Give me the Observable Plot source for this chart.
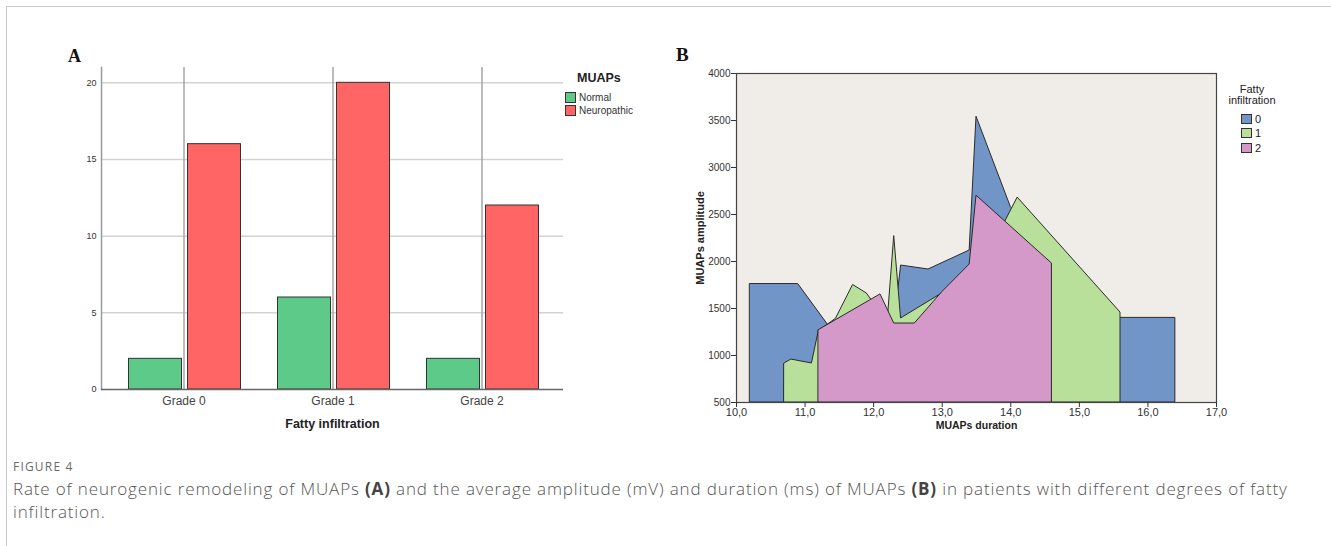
<!DOCTYPE html>
<html>
<head>
<meta charset="utf-8">
<script src="https://cdn.jsdelivr.net/npm/d3@7"></script>
<script src="https://cdn.jsdelivr.net/npm/@observablehq/plot@0.6"></script>
<style>
  html, body { margin: 0; padding: 0; background: #fff; }
  body { width: 1331px; height: 546px; position: relative; overflow: hidden; font-family: "Liberation Sans", Arial, sans-serif; }
  .box { position: absolute; left: 6px; top: 6px; width: 1330px; height: 545px; border-top: 1px solid #c9c9c9; border-left: 1px solid #c9c9c9; box-sizing: border-box; }
  #panelA, #panelB { position: absolute; top: 0; }
  #panelA { left: 0; }
  #panelB { left: 660px; }
  .plabel { position: absolute; font-family: "Liberation Serif", "Times New Roman", serif; font-weight: bold; color: #111; line-height: 1; }
  .legA { position: absolute; left: 565px; top: 71px; color: #333; }
  .legA .title { font-weight: bold; font-size: 12.5px; margin-left: 12px; margin-bottom: 6px; color: #222; }
  .legA .row { display: flex; align-items: center; font-size: 10px; height: 13px; }
  .legA .sw { width: 9px; height: 9px; border: 1px solid #333; margin-right: 3px; box-sizing: content-box; }
  .legB { position: absolute; left: 1222px; top: 84px; width: 60px; color: #222; font-size: 11px; }
  .legB .title { text-align: center; line-height: 11px; margin-bottom: 6px; }
  .legB .row { display: flex; align-items: center; height: 14.3px; margin-left: 19px; }
  .legB .sw { width: 9px; height: 8px; border: 1px solid #333; margin-right: 3px; box-sizing: content-box; }
  .fig { position: absolute; left: 13px; top: 458px; font-family: "Open Sans", sans-serif; font-size: 12px; letter-spacing: 1.2px; color: #6a6a6a; }
  .cap { position: absolute; left: 13px; top: 477px; font-family: "Open Sans", sans-serif; font-size: 17px; letter-spacing: 0.85px; line-height: 23px; color: #555; font-weight: 300; }
  .cap .line { white-space: nowrap; height: 23px; }
  .cap b { font-weight: 700; color: #444; }
</style>
</head>
<body>
<div class="box"></div>
<div id="panelA"></div>
<div id="panelB"></div>
<div class="plabel" style="left:68px; top:47px; font-size:18px;">A</div>
<div class="plabel" style="left:676px; top:45px; font-size:19px;">B</div>
<div class="legA" id="legA"></div>
<div class="legB" id="legB"></div>
<div class="fig">FIGURE 4</div>
<div class="cap">
  <div class="line"><span>Rate of neurogenic remodeling of MUAPs </span><b>(A)</b><span> and the average amplitude (mV) and duration (ms) of MUAPs </span><b>(B)</b><span> in patients with different degrees of fatty</span></div>
  <div class="line"><span>infiltration.</span></div>
</div>
<script>
// ---------- Panel A data ----------
const grades = ["Grade 0", "Grade 1", "Grade 2"];
const muapTypes = ["Normal", "Neuropathic"];
const normalCounts = [2, 6, 2];
const neuropathicCounts = [16, 20, 12];
const yTicksA = [0, 5, 10, 15, 20];
const colorsA = ["#5dca8a", "#ff6565"];

// ---------- Panel B data ----------
const fattyGroups = ["0", "1", "2"];
const grade0Duration  = [10.2, 10.9, 11.35, 11.8, 12.3, 12.4, 12.8, 13.4, 13.5, 14.0, 15.6, 16.4];
const grade0Amplitude = [1760, 1760, 1310, 1220, 1300, 1957, 1915, 2117, 3540, 2580, 1400, 1400];
const grade1Duration  = [10.7, 10.8, 11.1, 11.2, 11.45, 11.7, 11.9, 12.0, 12.2, 12.3, 12.4, 13.0, 13.5, 14.1, 15.6];
const grade1Amplitude = [915, 957, 915, 1260, 1390, 1750, 1660, 1560, 1320, 2270, 1394, 1660, 1830, 2680, 1457];
const grade2Duration  = [11.2, 12.1, 12.3, 12.6, 13.0, 13.4, 13.5, 14.6];
const grade2Amplitude = [1270, 1650, 1340, 1340, 1673, 1968, 2700, 1979];
const yTicksB = [500, 1000, 1500, 2000, 2500, 3000, 3500, 4000];
const xTicksB = [10, 11, 12, 13, 14, 15, 16, 17];
const colorsB = ["#7195c7", "#b8e09b", "#d498c9"];

// ---------- Panel A ----------
const normalRows = grades.map((g, i) => ({grade: g, type: muapTypes[0], count: normalCounts[i]}));
const neuroRows = grades.map((g, i) => ({grade: g, type: muapTypes[1], count: neuropathicCounts[i]}));

const plotA = Plot.plot({
  width: 660, height: 440,
  marginLeft: 101, marginRight: 97, marginTop: 67, marginBottom: 51,
  style: {fontFamily: "Liberation Sans, Arial, sans-serif", background: "transparent"},
  x: {domain: grades, paddingInner: 0, paddingOuter: 0.05, axis: null},
  y: {domain: [0, 21], axis: null},
  color: {domain: muapTypes, range: colorsA},
  marks: [
    Plot.ruleY(yTicksA.filter(d => d > 0), {stroke: "#d2d2d2", strokeWidth: 1.5}),
    Plot.ruleX(grades, {x: d => d, stroke: "#a6a6a6", strokeWidth: 1.5}),
    Plot.barY(normalRows, {x: "grade", y: "count", fill: "type", stroke: "#333", strokeWidth: 1, insetLeft: 19.5, insetRight: 76.5}),
    Plot.barY(neuroRows, {x: "grade", y: "count", fill: "type", stroke: "#333", strokeWidth: 1, insetLeft: 78.5, insetRight: 17.5}),
    Plot.frame({anchor: "left", stroke: "#9a9a9a", strokeWidth: 1.5}),
    Plot.ruleY([0], {stroke: "#666", strokeWidth: 1.5}),
    Plot.axisY({ticks: yTicksA, tickSize: 0, tickPadding: 5, fontSize: 9, label: null, color: "#333"}),
    Plot.axisX({tickSize: 0, tickPadding: 7, fontSize: 12, label: null, color: "#444"}),
    Plot.text(["Fatty infiltration"], {frameAnchor: "bottom", dy: 38, fontWeight: "bold", fontSize: 12.5, fill: "#222"})
  ]
});
document.getElementById("panelA").appendChild(plotA);

// Legend A
const legA = document.getElementById("legA");
legA.innerHTML = `<div class="title">MUAPs</div>` + muapTypes.map((t, i) =>
  `<div class="row"><div class="sw" style="background:${colorsA[i]}"></div>${t}</div>`).join("");

// ---------- Panel B ----------
const mk = (xs, ys, g) => xs.map((x, i) => ({duration: x, amplitude: ys[i], group: g}));
const rows0 = mk(grade0Duration, grade0Amplitude, fattyGroups[0]);
const rows1 = mk(grade1Duration, grade1Amplitude, fattyGroups[1]);
const rows2 = mk(grade2Duration, grade2Amplitude, fattyGroups[2]);

const areaOpts = {x1: "duration", y1: 500, y2: "amplitude", fill: "group", stroke: "#2a2a2a", strokeWidth: 1, strokeLinejoin: "miter"};

const plotB = Plot.plot({
  width: 671, height: 440,
  marginLeft: 76, marginRight: 115, marginTop: 73, marginBottom: 38,
  style: {fontFamily: "Liberation Sans, Arial, sans-serif", background: "transparent"},
  x: {domain: [10, 17], axis: null},
  y: {domain: [500, 4000], axis: null},
  color: {domain: fattyGroups, range: colorsB},
  marks: [
    Plot.frame({fill: "#f0ede9"}),
    Plot.area(rows0, areaOpts),
    Plot.area(rows1, areaOpts),
    Plot.area(rows2, areaOpts),
    Plot.frame({stroke: "#444", strokeWidth: 1.2}),
    Plot.axisY({ticks: yTicksB, tickSize: 5, tickPadding: 1, fontSize: 10, label: null, color: "#333", tickFormat: d => String(d)}),
    Plot.axisX({ticks: xTicksB, tickSize: 5, tickPadding: 1, fontSize: 11, label: null, color: "#333", tickFormat: d => d.toFixed(1).replace(".", ",")}),
    Plot.text(["MUAPs amplitude"], {frameAnchor: "left", textAnchor: "middle", rotate: -90, dx: -36, fontWeight: "bold", fontSize: 11, fill: "#222"}),
    Plot.text(["MUAPs duration"], {frameAnchor: "bottom", dy: 26, fontWeight: "bold", fontSize: 10.5, fill: "#222"})
  ]
});
document.getElementById("panelB").appendChild(plotB);

// Legend B
const legB = document.getElementById("legB");
legB.innerHTML = `<div class="title">Fatty<br>infiltration</div>` + fattyGroups.map((g, i) =>
  `<div class="row"><div class="sw" style="background:${colorsB[i]}"></div>${g}</div>`).join("");
</script>
</body>
</html>
